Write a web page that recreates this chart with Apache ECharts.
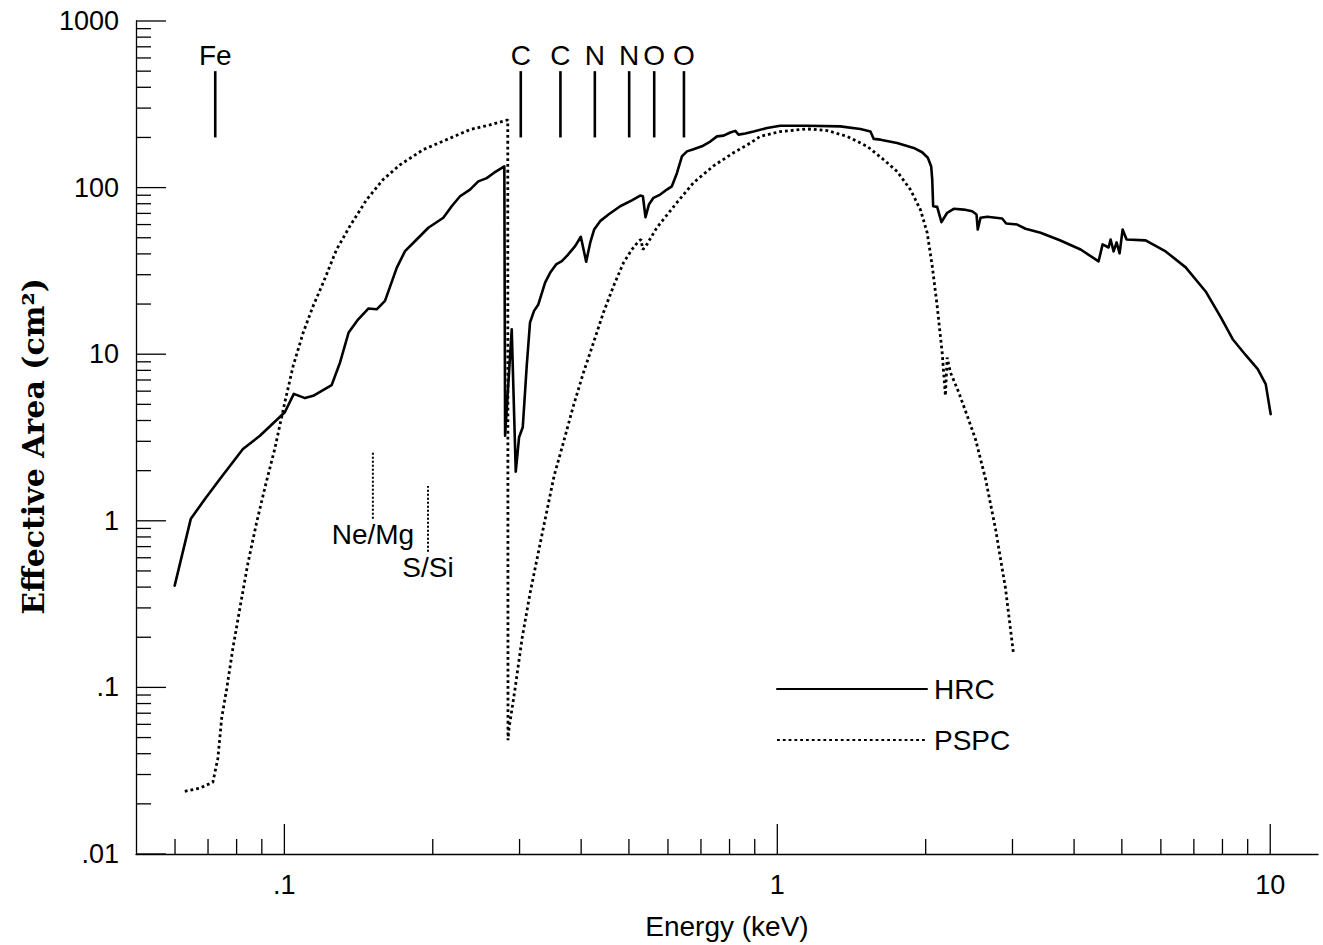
<!DOCTYPE html>
<html>
<head>
<meta charset="utf-8">
<script src="https://cdn.jsdelivr.net/npm/echarts@6.0.0/dist/echarts.min.js"></script>
<style>html,body{margin:0;padding:0;background:#fff}#chart{width:1323px;height:945px}</style>
</head>
<body>
<div id="chart"></div>
<script>
// ---- HRC effective area (keV, cm^2) ----
const hrcEnergy = [0.0599,0.0646,0.0690,0.0740,0.0824,0.0892,0.1002,0.1045,0.1101,0.1144,0.1247,0.1297,0.1350,0.1412,0.1480,0.1539,0.1600,0.1690,0.1757,0.1855,0.1959,0.2101,0.2185,0.2272,0.2380,0.2474,0.2573,0.2655,0.2794,0.2804,0.2892,0.2947,0.2993,0.3045,0.3102,0.3150,0.3210,0.3275,0.3380,0.3460,0.3558,0.3654,0.3751,0.3889,0.3994,0.4095,0.4173,0.4250,0.4371,0.4545,0.4800,0.5069,0.5270,0.5337,0.5403,0.5489,0.5608,0.5787,0.5970,0.6111,0.6256,0.6405,0.6557,0.6761,0.7031,0.7311,0.7545,0.7781,0.8028,0.8219,0.8344,0.8610,0.8953,0.9530,1.014,1.149,1.342,1.474,1.545,1.569,1.619,1.750,1.891,1.967,2.020,2.052,2.062,2.071,2.110,2.153,2.211,2.280,2.389,2.485,2.536,2.551,2.584,2.666,2.859,2.913,3.067,3.189,3.420,3.743,4.124,4.485,4.570,4.700,4.744,4.811,4.879,4.948,5.018,5.112,5.587,6.135,6.737,7.396,7.935,8.392,8.921,9.434,9.792,10.02];
const hrcArea = [0.408,1.03,1.35,1.78,2.70,3.24,4.48,5.78,5.45,5.63,6.52,8.92,13.5,16.2,18.8,18.6,20.9,33.0,41.6,48.8,57.4,65.9,77.3,88.7,97.3,109,114,122,134,3.24,14.1,1.97,3.17,3.64,8.51,15.5,18.2,19.9,26.9,30.8,34.6,36.2,39.2,44.5,50.7,35.9,46.7,56.0,62.9,68.9,77.3,83.9,89.6,88.7,66.4,79.1,86.8,90.8,97.3,101.8,122,154,165,170,177,189,203,205,214,219,208,211,217,228,235,235,233,225,217,196,194,185,173,163,151,134,112,77.3,76.6,62.0,70.6,74.6,73.8,72.1,68.9,56.0,65.9,66.8,65.2,60.9,60.0,56.6,53.6,48.3,42.5,36.1,45.6,43.7,48.8,41.4,46.9,40.3,56.0,48.8,48.2,41.4,33.2,23.8,16.7,12.3,9.86,8.13,6.61,4.37];

// ---- PSPC effective area (keV, cm^2) ----
const pspcEnergy = [0.0628,0.0673,0.0716,0.0733,0.0746,0.0764,0.0786,0.0812,0.0843,0.0879,0.0917,0.0956,0.1002,0.1042,0.1092,0.1144,0.1199,0.1276,0.1358,0.1469,0.1587,0.1716,0.1913,0.2168,0.2380,0.2614,0.2839,0.2842,0.2856,0.2938,0.3035,0.3150,0.3302,0.3526,0.3683,0.3858,0.4044,0.4236,0.4439,0.4652,0.4875,0.5069,0.5231,0.5290,0.5337,0.5438,0.5698,0.6256,0.6761,0.7424,0.8152,0.8813,0.9236,1.014,1.149,1.262,1.385,1.521,1.644,1.750,1.862,1.951,2.014,2.062,2.110,2.160,2.193,2.211,2.245,2.334,2.428,2.523,2.645,2.771,2.904,3.015];
const pspcArea = [0.0238,0.0248,0.0270,0.0376,0.0652,0.0986,0.171,0.297,0.553,0.986,1.665,2.70,5.14,8.51,13.5,19.5,26.9,42.5,58.7,84.8,112,137,169,198,223,238,255,0.0482,0.0568,0.0986,0.1965,0.366,0.728,1.867,2.96,4.90,7.77,11.7,17.8,25.6,35.4,42.5,47.7,48.8,42.5,45.6,57.6,81.3,107,135,162,185,203,217,225,220,203,177,147,125,97.3,73.8,53.6,33.8,19.5,10.2,5.63,9.55,7.77,5.90,4.27,3.10,1.784,0.896,0.392,0.158];

// ---- absorption edge markers ----
const edgeNames = ['Fe','C','C','N','N','O','O'];
const edgeEnergy = [0.0724,0.3017,0.3631,0.4264,0.5006,0.5627,0.6465];
const edgeLow = [200,200,200,200,200,200,200];
const edgeHigh = [500,500,500,500,500,500,500];

const featNames = ['Ne/Mg','S/Si'];
const featEnergy = [0.1512,0.1956];
const featLow = [1.03,0.652];
const featHigh = [2.59,1.62];

// ---- axes ----
const xMin = 0.05, xMax = 12.5;
const yMin = 0.01, yMax = 1000;
const xMajorTicks = [0.1,1,10];
const xMinorTicks = [0.06,0.07,0.08,0.09,0.2,0.3,0.4,0.5,0.6,0.7,0.8,0.9,2,3,4,5,6,7,8,9];
const yMajorTicks = [0.01,0.1,1,10,100,1000];
const yMinorTicks = [0.02,0.03,0.04,0.05,0.06,0.07,0.08,0.09,0.2,0.3,0.4,0.5,0.6,0.7,0.8,0.9,2,3,4,5,6,7,8,9,20,30,40,50,60,70,80,90,200,300,400,500,600,700,800,900];
const xTitle = 'Energy (keV)';
const yTitle = 'Effective Area (cm²)';
const seriesNames = ['HRC','PSPC'];

const FONT = '"Liberation Sans", Arial, sans-serif';
const FS = 28;

function fmt(v){
  let s = String(+Number(v).toPrecision(8));
  return s.indexOf('0.') === 0 ? s.slice(1) : s;
}

function xTicks(values, len){
  return {
    type:'custom', silent:true, clip:false, z:5, encode:{x:0,y:1},
    data: values.map(v => [v, yMin]),
    renderItem:(params, api) => {
      const p = api.coord([api.value(0), api.value(1)]);
      return {type:'line', shape:{x1:p[0],y1:p[1],x2:p[0],y2:p[1]-len}, style:{stroke:'#000', lineWidth:1.3}};
    }
  };
}
function yTicks(values, len){
  return {
    type:'custom', silent:true, clip:false, z:5, encode:{x:0,y:1},
    data: values.map(v => [xMin, v]),
    renderItem:(params, api) => {
      const p = api.coord([api.value(0), api.value(1)]);
      return {type:'line', shape:{x1:p[0],y1:p[1],x2:p[0]+len,y2:p[1]}, style:{stroke:'#000', lineWidth:1.3}};
    }
  };
}
function markers(names, energy, low, high, lineStyle, above){
  return {
    type:'custom', silent:true, clip:false, z:6, encode:{x:0,y:[1,2]},
    data: energy.map((e,i) => [e, low[i], high[i]]),
    renderItem:(params, api) => {
      const e = api.value(0);
      const a = api.coord([e, api.value(1)]);
      const b = api.coord([e, api.value(2)]);
      const ty = above ? b[1] - 16 : a[1] + 16;
      return {type:'group', children:[
        {type:'line', shape:{x1:a[0],y1:a[1],x2:b[0],y2:b[1]}, style:Object.assign({stroke:'#000'}, lineStyle)},
        {type:'text', x:b[0], y:ty, style:{text:names[params.dataIndex], fill:'#000', font: FS + 'px ' + FONT, align:'center', verticalAlign:'middle'}}
      ]};
    }
  };
}

const chart = echarts.init(document.getElementById('chart'), null, {renderer:'svg'});
chart.setOption({
  animation:false,
  backgroundColor:'#fff',
  grid:{left:136, right:5, top:21, bottom:89},
  legend:{
    data:seriesNames, orient:'vertical', left:776, top:675, padding:0,
    itemWidth:150, itemHeight:14, itemGap:23,
    itemStyle:{opacity:0},
    textStyle:{fontFamily:FONT, fontSize:FS, color:'#000', padding:[0,0,0,2]}
  },
  xAxis:{
    type:'log', logBase:10, min:xMin, max:xMax,
    name:xTitle, nameLocation:'middle', nameGap:58,
    nameTextStyle:{fontFamily:FONT, fontSize:FS, color:'#000'},
    axisLine:{show:true, onZero:false, lineStyle:{color:'#000', width:1.3}},
    axisTick:{show:false}, minorTick:{show:false}, splitLine:{show:false},
    axisLabel:{showMinLabel:false, showMaxLabel:false, margin:17, formatter:fmt, fontFamily:FONT, fontSize:27, color:'#000'}
  },
  yAxis:{
    type:'log', logBase:10, min:yMin, max:yMax,
    name:yTitle, nameLocation:'middle', nameGap:84,
    nameTextStyle:{fontFamily:'"DejaVu Serif", serif', fontWeight:'bold', fontSize:30, color:'#000', padding:[0,18,0,0]},
    axisLine:{show:true, onZero:false, lineStyle:{color:'#000', width:1.3}},
    axisTick:{show:false}, minorTick:{show:false}, splitLine:{show:false},
    axisLabel:{margin:17, formatter:fmt, fontFamily:FONT, fontSize:27, color:'#000'}
  },
  series:[
    {name:seriesNames[0], type:'line', symbol:'none', z:3,
     data: hrcEnergy.map((e,i) => [e, hrcArea[i]]),
     lineStyle:{color:'#000', width:2.6, join:'round', cap:'round'}, itemStyle:{color:'#000'}},
    {name:seriesNames[1], type:'line', symbol:'none', z:3,
     data: pspcEnergy.map((e,i) => [e, pspcArea[i]]),
     lineStyle:{color:'#000', width:2.8, type:[2.8,3]}, itemStyle:{color:'#000'}},
    xTicks(xMajorTicks, 30), xTicks(xMinorTicks, 15),
    yTicks(yMajorTicks, 30), yTicks(yMinorTicks, 15),
    markers(edgeNames, edgeEnergy, edgeLow, edgeHigh, {lineWidth:2.6}, true),
    markers(featNames, featEnergy, featLow, featHigh, {lineWidth:2, lineDash:[2,2]}, false)
  ]
});
</script>
</body>
</html>
